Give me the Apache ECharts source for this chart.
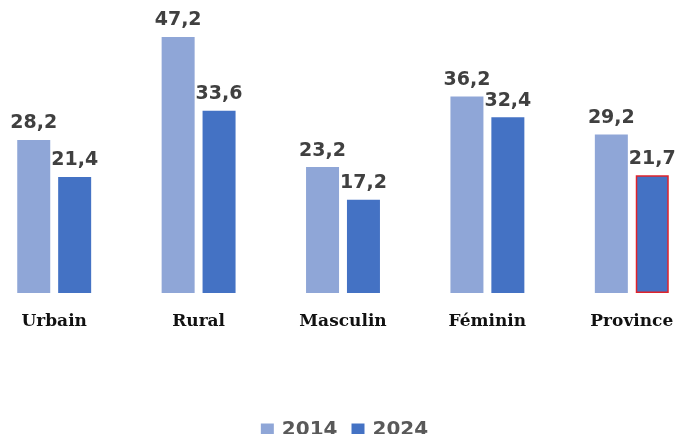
<!DOCTYPE html>
<html>
<head>
<meta charset="utf-8">
<script src="https://cdn.jsdelivr.net/npm/echarts@6/dist/echarts.min.js"></script>
<style>
  html, body { margin: 0; padding: 0; background: #fff; }
  #chart { width: 689px; height: 434px; }
</style>
</head>
<body>
<div id="chart"></div>
<script>
const categories = ['Urbain', 'Rural', 'Masculin', 'Féminin', 'Province']
const values2014 = [28.2, 47.2, 23.2, 36.2, 29.2]
const values2024 = [21.4, 33.6, 17.2, 32.4, 21.7]

const chart = echarts.init(document.getElementById('chart'))

// le dernier bâton 2024 (Province) est encadré en rouge
const data2024 = values2024.map((v, i) => i === categories.length - 1
  ? { value: v, itemStyle: { borderColor: '#E0232B', borderWidth: 1.5 } }
  : v)

const label = {
  show: true,
  position: 'top',
  distance: 7,
  fontFamily: 'DejaVu Sans, Verdana, sans-serif',
  fontWeight: 'bold',
  fontSize: 19,
  color: '#404040',
  formatter: p => String(p.value).replace('.', ',')
}

var option = {
  animation: false,
  grid: {
    left: -18,
    right: -15,
    top: 0,
    bottom: 141,
    outerBoundsMode: 'none',
    containLabel: false
  },
  legend: {
    top: 415,
    left: 'center',
    itemWidth: 13,
    itemHeight: 13,
    itemGap: 14,
    icon: 'rect',
    textStyle: {
      fontFamily: 'DejaVu Sans, Verdana, sans-serif',
      fontWeight: 'bold',
      fontSize: 20,
      color: '#595959',
      padding: [0, 0, 0, 3]
    },
    data: ['2014', '2024']
  },
  xAxis: {
    type: 'category',
    data: categories,
    axisLine: { show: false },
    axisTick: { show: false },
    axisLabel: {
      margin: 20,
      fontFamily: 'DejaVu Serif, Times New Roman, serif',
      fontWeight: 'bold',
      fontSize: 17,
      color: '#111'
    }
  },
  yAxis: {
    type: 'value',
    min: 0,
    max: 54,
    show: false,
    splitLine: { show: false }
  },
  series: [
    {
      name: '2014',
      type: 'bar',
      data: values2014,
      barWidth: 33,
      barGap: '24%',
      itemStyle: { color: '#8FA6D7' },
      label: label
    },
    {
      name: '2024',
      type: 'bar',
      data: data2024,
      barWidth: 33,
      itemStyle: { color: '#4472C4' },
      label: label
    }
  ]
}

chart.setOption(option)
</script>
</body>
</html>
